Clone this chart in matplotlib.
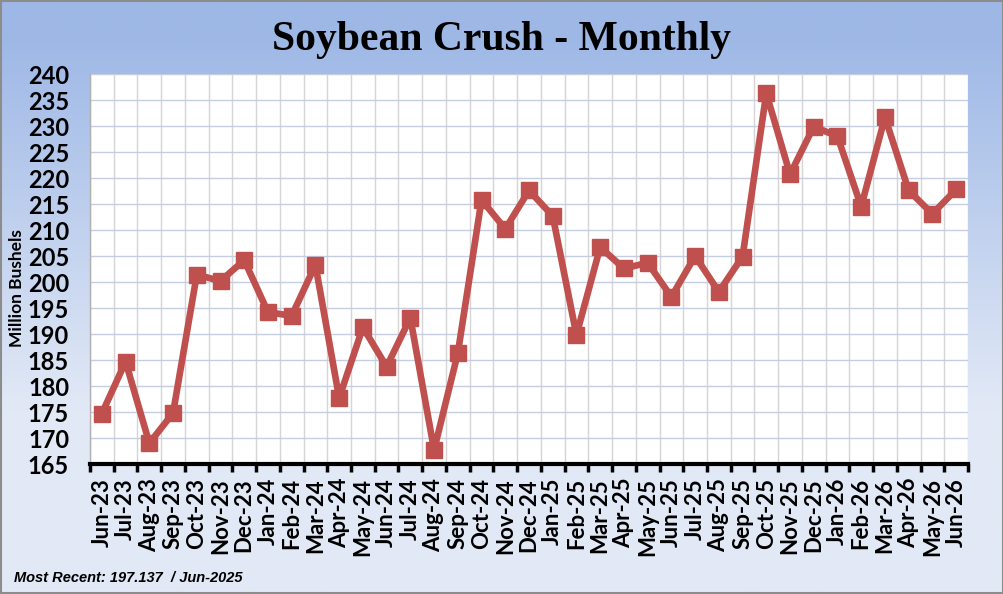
import numpy as np
import matplotlib
matplotlib.use("Agg")
import matplotlib.pyplot as plt

# monthly soybean crush, million bushels
months = ["Jun-23", "Jul-23", "Aug-23", "Sep-23", "Oct-23", "Nov-23", "Dec-23",
          "Jan-24", "Feb-24", "Mar-24", "Apr-24", "May-24", "Jun-24", "Jul-24",
          "Aug-24", "Sep-24", "Oct-24", "Nov-24", "Dec-24", "Jan-25", "Feb-25",
          "Mar-25", "Apr-25", "May-25", "Jun-25", "Jul-25", "Aug-25", "Sep-25",
          "Oct-25", "Nov-25", "Dec-25", "Jan-26", "Feb-26", "Mar-26", "Apr-26",
          "May-26", "Jun-26"]
crush = [174.7, 184.7, 169.0, 174.8, 201.4, 200.2, 204.2,
         194.2, 193.5, 203.3, 177.7, 191.3, 183.7, 193.1,
         167.7, 186.3, 215.8, 210.2, 217.6, 212.7, 189.8,
         206.7, 202.6, 203.7, 197.137, 205.0, 198.1, 204.9,
         236.3, 220.7, 229.9, 228.0, 214.5, 231.7, 217.6,
         213.1, 217.8]
yticks = list(range(165, 241, 5))
footer = "Most Recent: 197.137  / Jun-2025"

fig = plt.figure(figsize=(10.04, 5.94), dpi=100)

# gradient background, blue on top fading to pale at the bottom
bg = fig.add_axes([0, 0, 1, 1], zorder=-10)
top = np.array([158, 184, 230]) / 255
bottom = np.array([226, 233, 246]) / 255
t = np.linspace(0, 1, 256)[:, None]
grad = top + (bottom - top) * np.clip(t * 1.6 - 0.1, 0, 1)
bg.imshow(grad[:, None, :].repeat(2, axis=1), aspect="auto",
          extent=[0, 1, 0, 1], origin="upper")
bg.set_xlim(0, 1)
bg.set_ylim(0, 1)
bg.axis("off")
bg.add_patch(plt.Rectangle((0.001, 0.001), 0.998, 0.997, fill=False,
                           edgecolor="#8c8c8c", linewidth=1.5))

ax = fig.add_axes([90 / 1004, 1 - 464 / 594, 878 / 1004, 390 / 594])
ax.set_facecolor("white")
x = np.arange(len(months))
ax.plot(x, crush, color="#C0504D", linewidth=4.8, marker="s", markersize=11,
        zorder=3)

ax.set_xlim(-0.5, len(months) - 0.5)
ax.set_ylim(165, 240)
ax.set_yticks(yticks)
ax.set_yticklabels([str(v) for v in yticks], fontsize=17, fontweight="bold",
                   family="Lato")
ax.tick_params(axis="y", length=0, pad=15)

ax.set_xticks(x)
ax.set_xticklabels(months, rotation=90, fontsize=16, fontweight="bold",
                   family="Lato")
ax.set_xticks(np.arange(len(months) + 1) - 0.5, minor=True)
ax.tick_params(axis="x", which="major", length=0, pad=10)
ax.tick_params(axis="x", which="minor", length=6, width=2.5, color="black")

ax.grid(True, axis="y", color="#c5cde0", linewidth=1)
ax.grid(True, axis="x", which="minor", color="#d8d4d4", linewidth=1)

for side in ["top", "right"]:
    ax.spines[side].set_visible(False)
ax.spines["left"].set_color("#b0b0b0")
ax.spines["left"].set_linewidth(1)
ax.spines["bottom"].set_linewidth(3)
ax.spines["bottom"].set_color("black")

fig.text(17 / 1004, 1 - 288 / 594, "Million Bushels", rotation=90, ha="center",
         va="center", fontsize=12.5, fontweight="bold", family="Lato")

fig.text(0.5, 1 - 40 / 594, "Soybean Crush - Monthly", ha="center", va="center",
         fontsize=30, fontweight="bold", family="Liberation Serif")
fig.text(14 / 1004, 1 - 578 / 594, footer, ha="left", va="center", fontsize=10.5,
         fontweight="bold", style="italic", family="Liberation Sans")

fig.savefig("out.png", dpi=100)
